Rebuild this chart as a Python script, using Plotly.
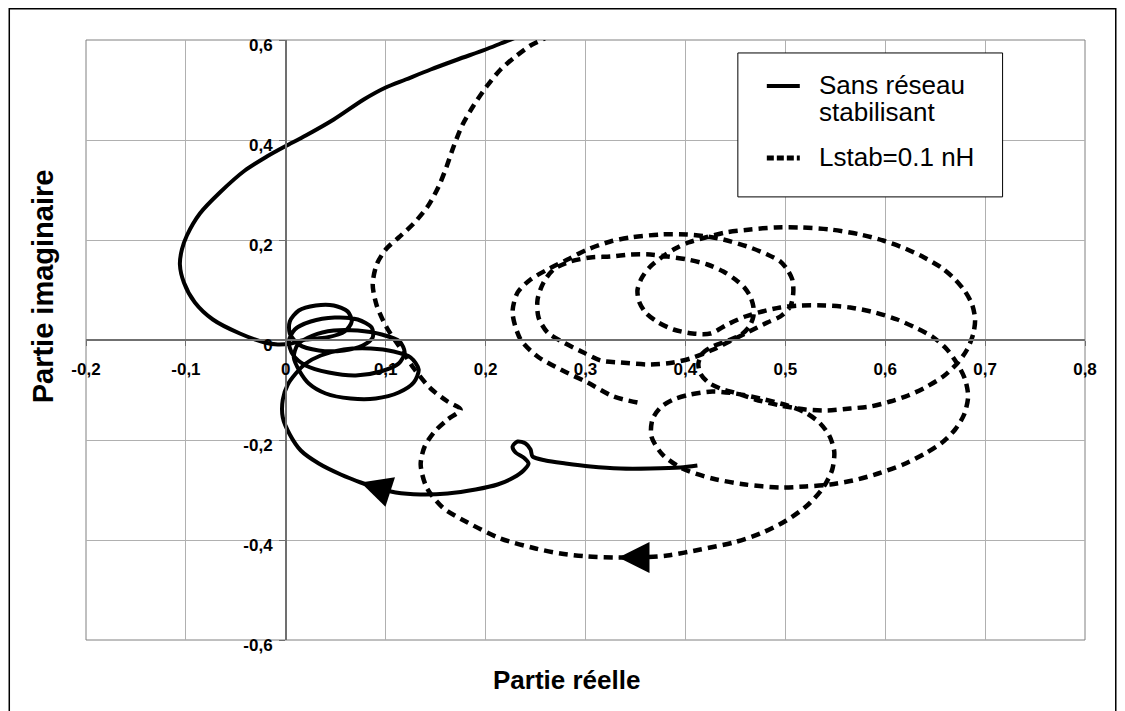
import plotly.graph_objects as go

# axes -------------------------------------------------------------------------
x_ticks = [-0.2, -0.1, 0.0, 0.1, 0.2, 0.3, 0.4, 0.5, 0.6, 0.7, 0.8]
x_tick_labels = ["-0,2", "-0,1", "0", "0,1", "0,2", "0,3", "0,4", "0,5", "0,6", "0,7", "0,8"]
y_ticks = [-0.6, -0.4, -0.2, 0.0, 0.2, 0.4, 0.6]
y_tick_labels = ["-0,6", "-0,4", "-0,2", "0", "0,2", "0,4", "0,6"]

# series 1 : sans reseau stabilisant ------------------------------------------
sans_name = "Sans réseau stabilisant"
sans_x = [0.412, 0.395, 0.365, 0.335, 0.305, 0.280, 0.260, 0.247, 0.245, 0.240,
          0.232, 0.227, 0.230, 0.238, 0.243, 0.238, 0.228, 0.212, 0.190, 0.162,
          0.135, 0.110, 0.090, 0.075, 0.055, 0.033, 0.015, 0.004, -0.003, -0.003,
          0.002, 0.010,
          0.020, 0.035, 0.058, 0.085, 0.108, 0.125, 0.133, 0.128, 0.113, 0.090,
          0.065, 0.040, 0.023, 0.014,
          0.008, 0.012, 0.027, 0.048, 0.072, 0.096, 0.114, 0.119, 0.113, 0.095,
          0.070, 0.043, 0.020, 0.007,
          0.003, 0.009, 0.025, 0.049, 0.072, 0.086, 0.087, 0.077, 0.058, 0.033,
          0.013, 0.004,
          0.004, 0.013, 0.030, 0.048, 0.062, 0.066, 0.059, 0.041, 0.020, 0.005,
          -0.008, -0.021, -0.046, -0.073, -0.091, -0.102, -0.106, -0.104, -0.099, -0.086,
          -0.066, -0.041, -0.019, -0.001, 0.020, 0.048, 0.078, 0.100, 0.120, 0.145,
          0.172, 0.200, 0.215, 0.230, 0.240]
sans_y = [-0.251, -0.255, -0.257, -0.257, -0.253, -0.247, -0.241, -0.233, -0.219, -0.207,
          -0.203, -0.213, -0.225, -0.235, -0.247, -0.261, -0.275, -0.289, -0.299, -0.307,
          -0.309, -0.305, -0.295, -0.285, -0.269, -0.247, -0.221, -0.189, -0.155, -0.119,
          -0.089, -0.067,
          -0.047, -0.031, -0.019, -0.017, -0.023, -0.035, -0.059, -0.085, -0.105, -0.117,
          -0.117, -0.107, -0.087, -0.063,
          -0.035, -0.009, 0.009, 0.019, 0.019, 0.011, -0.003, -0.025, -0.047, -0.063,
          -0.071, -0.065, -0.051, -0.029,
          -0.003, 0.021, 0.037, 0.045, 0.041, 0.025, 0.005, -0.011, -0.021, -0.021,
          -0.009, 0.013,
          0.037, 0.059, 0.069, 0.069, 0.057, 0.037, 0.017, 0.005, 0.001, -0.007,
          -0.009, -0.005, 0.013, 0.041, 0.075, 0.115, 0.151, 0.181, 0.209, 0.253,
          0.295, 0.339, 0.367, 0.387, 0.409, 0.441, 0.481, 0.505, 0.521, 0.541,
          0.561, 0.581, 0.593, 0.605, 0.617]

# series 2 : Lstab = 0.1 nH ------------------------------------------------------
lstab_name = "Lstab=0.1 nH"
lstab_x = [0.352, 0.328, 0.302, 0.275, 0.252, 0.235, 0.227, 0.232, 0.245, 0.262,
           0.282, 0.302, 0.325, 0.345, 0.375, 0.402, 0.422, 0.438, 0.462, 0.482,
           0.495, 0.502, 0.507, 0.508, 0.505, 0.495, 0.482, 0.462, 0.448, 0.428,
           0.405, 0.388, 0.365, 0.335, 0.315, 0.298, 0.278, 0.262, 0.253, 0.252,
           0.258, 0.268, 0.285, 0.305, 0.325, 0.345, 0.365, 0.382, 0.402, 0.422,
           0.438, 0.450, 0.459, 0.465, 0.468, 0.468, 0.464, 0.456, 0.443, 0.427,
           0.417, 0.413, 0.415, 0.423, 0.435, 0.452, 0.470, 0.495, 0.520, 0.542,
           0.565, 0.585, 0.605, 0.623, 0.640, 0.658, 0.672, 0.682, 0.688, 0.690,
           0.687, 0.680, 0.670, 0.656, 0.639, 0.620, 0.598, 0.575, 0.545, 0.515,
           0.490, 0.465, 0.440, 0.420, 0.403, 0.390, 0.376, 0.364, 0.356, 0.352,
           0.354, 0.361, 0.373, 0.388, 0.407, 0.425, 0.442, 0.460, 0.477, 0.495,
           0.515, 0.540, 0.565, 0.590, 0.612, 0.630, 0.647, 0.661, 0.672, 0.680,
           0.683, 0.679, 0.670, 0.657, 0.640, 0.618, 0.593, 0.568, 0.545, 0.520,
           0.495, 0.460, 0.427, 0.397, 0.377, 0.366, 0.367, 0.375, 0.388, 0.405,
           0.427, 0.450, 0.475, 0.502, 0.520, 0.534, 0.544, 0.549, 0.547, 0.538,
           0.523, 0.501, 0.475, 0.448, 0.415, 0.382, 0.355, 0.333, 0.302, 0.275,
           0.250, 0.215, 0.182, 0.157, 0.141, 0.135, 0.139, 0.149, 0.162, 0.175,
           0.162, 0.145, 0.129, 0.115, 0.101, 0.091, 0.087, 0.091, 0.100, 0.113,
           0.128, 0.142, 0.153, 0.161, 0.168, 0.177, 0.188, 0.201, 0.215, 0.230,
           0.245, 0.257, 0.267]
lstab_y = [-0.125, -0.113, -0.085, -0.059, -0.033, 0.001, 0.055, 0.095, 0.121, 0.141,
           0.161, 0.181, 0.197, 0.205, 0.211, 0.211, 0.207, 0.201, 0.187, 0.171,
           0.157, 0.141, 0.121, 0.095, 0.067, 0.047, 0.035, 0.015, 0.001, -0.019,
           -0.037, -0.045, -0.049, -0.045, -0.041, -0.025, -0.005, 0.015, 0.045, 0.081,
           0.115, 0.141, 0.157, 0.165, 0.167, 0.171, 0.171, 0.167, 0.161, 0.151,
           0.137, 0.121, 0.105, 0.087, 0.067, 0.047, 0.027, 0.011, -0.001, -0.013,
           -0.027, -0.047, -0.067, -0.085, -0.097, -0.107, -0.119, -0.131, -0.139, -0.141,
           -0.137, -0.133, -0.123, -0.111, -0.095, -0.073, -0.047, -0.019, 0.011, 0.041,
           0.071, 0.097, 0.121, 0.145, 0.165, 0.183, 0.199, 0.211, 0.221, 0.225,
           0.225, 0.221, 0.215, 0.205, 0.195, 0.183, 0.165, 0.145, 0.123, 0.099,
           0.075, 0.053, 0.035, 0.021, 0.013, 0.013, 0.031, 0.047, 0.057, 0.065,
           0.069, 0.069, 0.065, 0.055, 0.041, 0.025, 0.007, -0.017, -0.047, -0.079,
           -0.113, -0.149, -0.179, -0.205, -0.227, -0.249, -0.267, -0.281, -0.289, -0.293,
           -0.295, -0.289, -0.277, -0.257, -0.229, -0.193, -0.159, -0.135, -0.119, -0.109,
           -0.103, -0.107, -0.117, -0.131, -0.145, -0.165, -0.191, -0.223, -0.259, -0.295,
           -0.329, -0.361, -0.387, -0.405, -0.419, -0.431, -0.435, -0.435, -0.433, -0.427,
           -0.417, -0.397, -0.365, -0.335, -0.295, -0.249, -0.213, -0.183, -0.159, -0.139,
           -0.123, -0.097, -0.059, -0.017, 0.025, 0.069, 0.111, 0.151, 0.181, 0.205,
           0.233, 0.267, 0.307, 0.347, 0.387, 0.431, 0.469, 0.507, 0.541, 0.567,
           0.589, 0.601, 0.613]

# arrow heads drawn on the curves (tip position + rotation in degrees)
arrow_x = [0.075, 0.333]
arrow_y = [-0.285, -0.435]
arrow_angle = [18, 0]

font_main = "Liberation Sans, Arial, sans-serif"

fig = go.Figure()

fig.add_trace(go.Scatter(x=sans_x, y=sans_y, name=sans_name, mode="lines",
                         line=dict(color="black", width=4, shape="spline", smoothing=0.8),
                         showlegend=False))
fig.add_trace(go.Scatter(x=lstab_x, y=lstab_y, name=lstab_name, mode="lines",
                         line=dict(color="black", width=4.5, dash="9px,6px",
                                   shape="spline", smoothing=0.8),
                         showlegend=False))
fig.add_trace(go.Scatter(x=arrow_x, y=arrow_y, mode="markers", showlegend=False,
                         marker=dict(symbol="arrow-left", size=31, angle=arrow_angle,
                                     color="black", line=dict(width=0))))

# frame of the whole chart and of the plot area
fig.add_shape(type="rect", xref="paper", yref="paper", x0=-0.0768, x1=1.0308, y0=-0.14, y1=1.0522,
              line=dict(color="black", width=1.5), layer="below")
fig.add_shape(type="rect", xref="paper", yref="paper", x0=0, x1=1, y0=0, y1=1,
              line=dict(color="#808080", width=1), layer="below")

# legend box drawn by hand (Excel style)
fig.add_shape(type="rect", xref="paper", yref="paper", x0=0.6525, x1=0.9175, y0=0.7385, y1=0.9784,
              line=dict(color="black", width=1), fillcolor="white", layer="above")
fig.add_shape(type="line", xref="paper", yref="paper", x0=0.6815, x1=0.7145, y0=0.9234, y1=0.9234,
              line=dict(color="black", width=4))
fig.add_shape(type="line", xref="paper", yref="paper", x0=0.6815, x1=0.7145, y0=0.8035, y1=0.8035,
              line=dict(color="black", width=5, dash="7px,3px"))
legend_font = dict(family=font_main, size=26, color="black")
for txt, yy in [("Sans réseau", 0.9251), ("stabilisant", 0.880), (lstab_name, 0.805)]:
    fig.add_annotation(text=txt, xref="paper", yref="paper", x=0.7315, y=yy,
                       xanchor="left", yanchor="middle", showarrow=False, font=legend_font)

# axis titles
fig.add_annotation(text="<b>Partie réelle</b>", xref="paper", yref="paper", x=0.4805, y=-0.066,
                   xanchor="center", yanchor="middle", showarrow=False,
                   font=dict(family=font_main, size=26, color="black"))
fig.add_annotation(text="<b>Partie imaginaire</b>", xref="paper", yref="paper", x=-0.0435, y=0.5887,
                   xanchor="center", yanchor="middle", showarrow=False, textangle=-90,
                   font=dict(family=font_main, size=29, color="black"))

# the page body has an 8px margin, so the figure is 1117x703 and sits at (8, 8)
fig.update_layout(
    width=1117, height=703,
    margin=dict(l=77.5, r=39.5, t=32, b=70.5),
    paper_bgcolor="white", plot_bgcolor="white",
    showlegend=False,
    xaxis=dict(range=[-0.2, 0.8], tickvals=x_ticks, ticktext=x_tick_labels,
               showgrid=True, gridcolor="#b0b0b0", gridwidth=1, zeroline=False,
               showline=True, linecolor="#707070", linewidth=1.5,
               anchor="free", position=0.5, ticks="outside", ticklen=5, tickcolor="#707070",
               ticklabelstandoff=9,
               tickfont=dict(family=font_main, size=17, color="black", weight="bold"),
               fixedrange=True),
    yaxis=dict(range=[-0.6, 0.6], tickvals=y_ticks, ticktext=y_tick_labels,
               showgrid=True, gridcolor="#b0b0b0", gridwidth=1, zeroline=False,
               showline=True, linecolor="#707070", linewidth=1.5,
               anchor="free", position=0.2, ticks="outside", ticklen=6, tickcolor="#707070",
               ticklabelstandoff=3, ticklabelshift=5,
               tickfont=dict(family=font_main, size=17, color="black", weight="bold"),
               fixedrange=True),
)

fig.write_html("out.html")
